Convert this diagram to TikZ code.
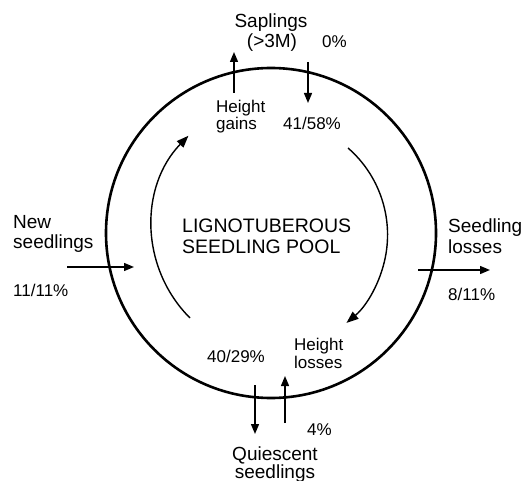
\documentclass[tikz,border=0pt]{standalone}
\usepackage{fontspec}
\setmainfont{Liberation Sans}
\usetikzlibrary{arrows.meta}
\begin{document}
\begin{tikzpicture}[x=1pt,y=-1pt,
  big/.style={font=\fontsize{19}{23}\selectfont, inner sep=0pt},
  mid/.style={font=\fontsize{19.5}{20}\selectfont, inner sep=0pt},
  small/.style={font=\fontsize{17}{19}\selectfont, inner sep=0pt},
  flow/.style={line width=1.4pt, -{Triangle[length=10pt,width=8pt]}},
  cyc/.style={line width=1.4pt, -{Triangle[length=12pt,width=9pt]}},
  pool/.style={line width=2.6pt}]
\useasboundingbox (0,0) rectangle (527,481);
% pool circle
\coordinate (c) at (271,233);
\draw[pool] (c) circle[radius=165];
% centre text
\node[mid, anchor=base west] (t1) at (182,233) {LIGNOTUBEROUS};
\node[mid, anchor=base west] (t2) at (182,253) {SEEDLING POOL};
% top
\node[big, anchor=base] (sap1) at (271,28) {Saplings};
\node[big, anchor=base] (sap2) at (272,48) {(>3M)};
\node[small, anchor=base west] (zero) at (322,48) {0\%};
\coordinate (hgS) at (234,93);
\coordinate (hgE) at (234,52);
\draw[flow] (hgS) -- (hgE);
\coordinate (sdS) at (308,62);
\coordinate (sdE) at (308,103);
\draw[flow] (sdS) -- (sdE);
\node[small, anchor=base west] (hg1) at (216,113) {Height};
\node[small, anchor=base west] (hg2) at (216,130) {gains};
\node[small, anchor=base west] (p41) at (283,130) {41/58\%};
% left
\node[big, anchor=base west] (ns1) at (13,228) {New};
\node[big, anchor=base west] (ns2) at (13,248) {seedlings};
\node[small, anchor=base west] (p11) at (13,296) {11/11\%};
\coordinate (nsS) at (67,267);
\coordinate (nsE) at (134,267);
\draw[flow] (nsS) -- (nsE);
% right
\node[big, anchor=base west] (sl1) at (448,233) {Seedling};
\node[big, anchor=base west] (sl2) at (448,253) {losses};
\node[small, anchor=base west] (p8) at (448,300) {8/11\%};
\coordinate (slS) at (418,270);
\coordinate (slE) at (490,270);
\draw[flow] (slS) -- (slE);
% bottom
\node[small, anchor=base west] (p40) at (207,362) {40/29\%};
\node[small, anchor=base west] (hl1) at (294,350) {Height};
\node[small, anchor=base west] (hl2) at (294,368) {losses};
\coordinate (qdS) at (255,385);
\coordinate (qdE) at (255,434);
\draw[flow] (qdS) -- (qdE);
\coordinate (quS) at (285,423);
\coordinate (quE) at (285,376);
\draw[flow] (quS) -- (quE);
\node[small, anchor=base west] (p4) at (307,435) {4\%};
\node[big, anchor=base] (q1) at (275,460) {Quiescent};
\node[big, anchor=base] (q2) at (275,478) {seedlings};
% inner cycle arcs
\coordinate (la) at (190,318);
\draw[cyc] (la) arc[start angle=135, end angle=224, radius=130];
\coordinate (ra) at (348,148);
\draw[cyc] (ra) arc[start angle=-49, end angle=50, radius=115];
\end{tikzpicture}
\end{document}
